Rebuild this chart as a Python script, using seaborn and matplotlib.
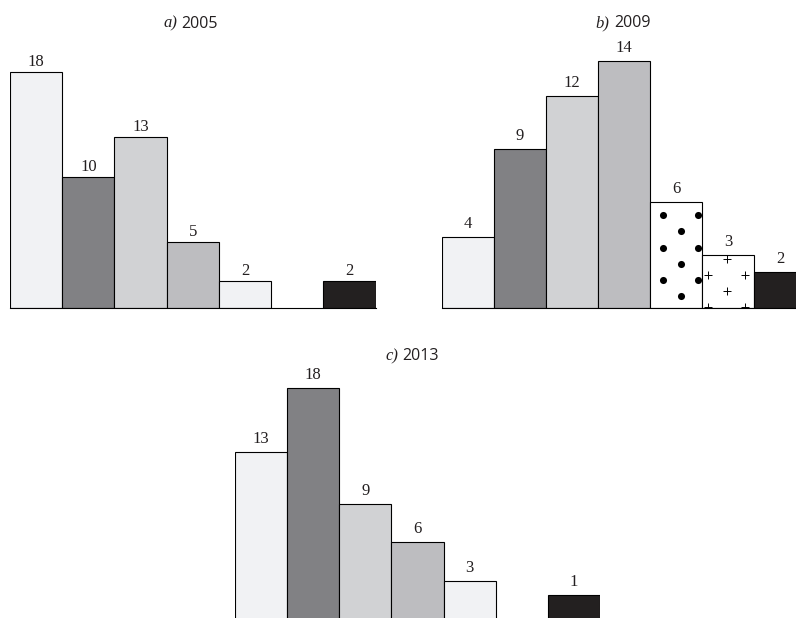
import numpy as np
import pandas as pd
import matplotlib.pyplot as plt
import seaborn as sns

# --- data ---
categories = ["A", "B", "C", "D", "E", "F", "G"]
values_2005 = [18, 10, 13, 5, 2, np.nan, 2]
values_2009 = [4, 9, 12, 14, 6, 3, 2]
# bar heights as drawn in the source (the "1" bar is drawn at about 1.9)
values_2013 = [13, 18, 9, 6, 3, np.nan, 1.9]
labels_2013 = ["13", "18", "9", "6", "3", "", "1"]

light, dark, lgray, mgray, black = "#f1f2f4", "#808185", "#d1d2d4", "#bcbdc0", "#231f20"
colors_ac = [light, dark, lgray, mgray, light, "white", black]
colors_b = [light, dark, lgray, mgray, "white", "white", black]
textures_b = {"E": "dots", "F": "plus"}

sns.set_style("white")
plt.rcParams["font.family"] = ["Liberation Serif", "DejaVu Serif"]

W, H = 796, 618
fig = plt.figure(figsize=(W / 100, H / 100), dpi=100)


def px_rect(l, t, r, b):
    return [l / W, 1 - b / H, (r - l) / W, (b - t) / H]


def texture(ax, bar, kind):
    # staggered lattice of marks inside a bar (spacing in pixels)
    x0, y0 = ax.transData.transform((bar.get_x(), 0))
    x1, y1 = ax.transData.transform((bar.get_x() + bar.get_width(), bar.get_height()))
    if kind == "dots":
        sx, sy, fx, fy = 35, 16.3, 13, 13
    else:
        sx, sy, fx, fy = 36.7, 16.2, 24.7, 4
    pts = []
    row = 0
    y = y1 - fy
    while y > y0 - sy:
        shift = fx + (sx / 2 if row % 2 else 0)
        for k in range(-2, 4):
            pts.append((x0 + shift + k * sx, y))
        y -= sy
        row += 1
    pts = ax.transData.inverted().transform(np.array(pts))
    if kind == "dots":
        sc = ax.scatter(pts[:, 0], pts[:, 1], s=26, color="black", marker="o",
                        linewidths=0, zorder=3)
    else:
        sc = ax.scatter(pts[:, 0], pts[:, 1], s=34, color="black", marker="+",
                        linewidths=0.7, zorder=3)
    sc.set_clip_path(bar)


# letter, year, values, labels, colours, axes box (px), y max, textures,
# label padding, title split x / baseline (px)
panels = [
    ("a)", "2005", values_2005, None, colors_ac, (10, 40, 375.7, 307.7), 20.42, {}, 1.5, (177, 27.5)),
    ("b)", "2009", values_2009, None, colors_b, (442, 40, 806, 307.5), 15.2, textures_b, 3.5, (609.5, 27)),
    ("c)", "2013", values_2013, labels_2013, colors_ac, (235, 365, 600, 619), 19.8, {}, 3.5, (398, 360.5)),
]

for letter, year, values, labels, colors, box, ymax, textures, pad, (sx, sy) in panels:
    if labels is None:
        labels = ["" if np.isnan(v) else f"{v:.0f}" for v in values]
    df = pd.DataFrame({"cat": categories, "value": values, "label": labels}).dropna()
    ax = fig.add_axes(px_rect(*box))
    sns.barplot(data=df, x="cat", y="value", hue="cat", order=categories,
                palette=dict(zip(categories, colors)), width=1,
                edgecolor="black", linewidth=0.8, errorbar=None,
                legend=False, ax=ax)
    ax.set_xlim(-0.5, 6.5)
    ax.set_ylim(0, ymax)
    lab = dict(zip(df["cat"], df["label"]))
    for c in ax.containers:
        texts = [lab[categories[int(round(p.get_x() + p.get_width() / 2))]] for p in c]
        ax.bar_label(c, labels=texts, padding=pad, fontsize=12, color="#231f20")
    for p in ax.patches:
        cat = categories[int(round(p.get_x() + p.get_width() / 2))]
        if cat in textures:
            texture(ax, p, textures[cat])
    ax.set_xticks([])
    ax.set_yticks([])
    ax.set_xlabel("")
    ax.set_ylabel("")
    for side in ["top", "left", "right"]:
        ax.spines[side].set_visible(False)
    ax.spines["bottom"].set_color("black")
    ax.spines["bottom"].set_linewidth(0.8)
    ax.patch.set_alpha(0)

    # title: italic serif letter + sans year
    fig.text(sx / W, 1 - sy / H, letter, ha="right", va="baseline",
             fontsize=12, style="italic", color="#231f20")
    fig.text((sx + 4.5) / W, 1 - sy / H, year, ha="left", va="baseline",
             fontsize=11.5, family="Open Sans", color="#231f20")

fig.savefig("out.png", dpi=100)
